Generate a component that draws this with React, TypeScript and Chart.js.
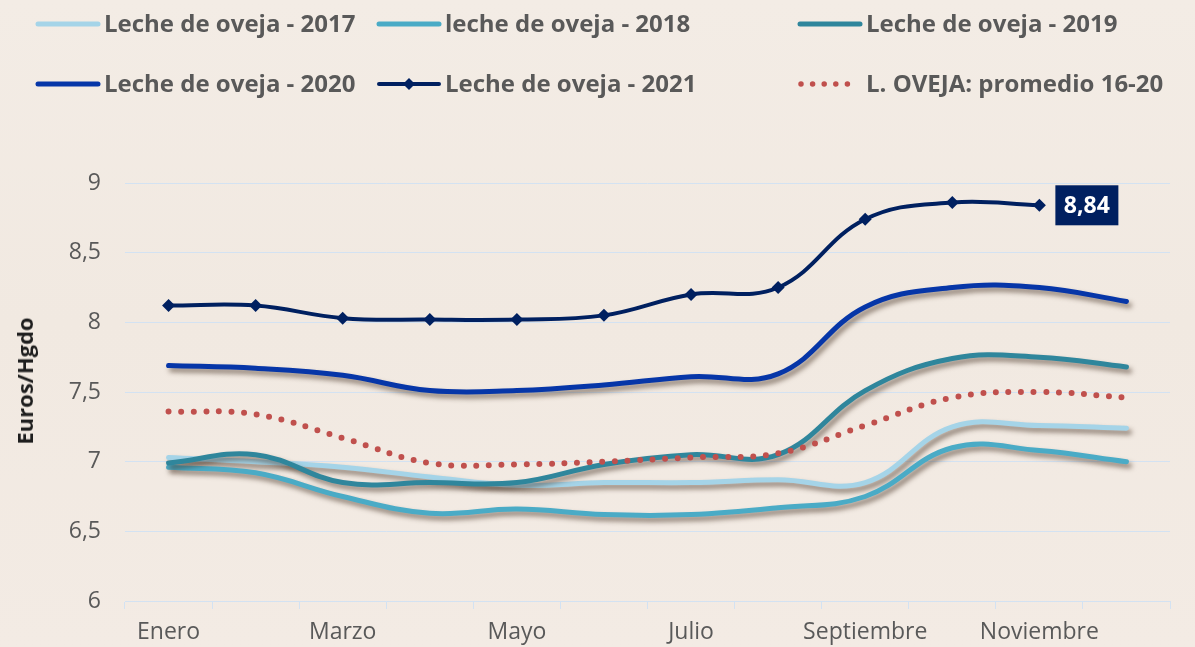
import React, { useEffect, useRef } from 'react';
import { Chart, registerables } from 'chart.js';
Chart.register(...registerables);

const months = ['Enero', 'Febrero', 'Marzo', 'Abril', 'Mayo', 'Junio', 'Julio', 'Agosto', 'Septiembre', 'Octubre', 'Noviembre', 'Diciembre'];
const leche2017 = [7.03, 7.0, 6.96, 6.89, 6.83, 6.85, 6.85, 6.87, 6.85, 7.25, 7.26, 7.24];
const leche2018 = [6.96, 6.92, 6.75, 6.63, 6.66, 6.62, 6.62, 6.67, 6.75, 7.1, 7.08, 7.0];
const leche2019 = [6.99, 7.05, 6.85, 6.85, 6.85, 6.98, 7.05, 7.05, 7.51, 7.74, 7.75, 7.68];
const leche2020 = [7.69, 7.67, 7.62, 7.51, 7.51, 7.55, 7.61, 7.63, 8.11, 8.25, 8.25, 8.15];
const leche2021 = [8.12, 8.12, 8.03, 8.02, 8.02, 8.05, 8.2, 8.25, 8.74, 8.86, 8.84, null];
const promedio = [7.36, 7.34, 7.17, 6.99, 6.98, 7.0, 7.03, 7.06, 7.26, 7.46, 7.5, 7.46];
const yMin = 6;
const yMax = 9;
const yStep = 0.5;
const lastLabel = '8,84';
const yTitle = 'Euros/Hgdo';

const FONT = "'Open Sans', sans-serif";
const TEXT = '#595959';
const GRID = '#d3e2f2';
const C2017 = '#a5d4e8';
const C2018 = '#4aabc6';
const C2019 = '#2f869c';
const C2020 = '#0636a8';
const C2021 = '#002060';
const CPROM = '#c0504d';

const legendItems = [
  { label: 'Leche de oveja - 2017', color: C2017, kind: 'line', x: 35, row: 0 },
  { label: 'leche de oveja - 2018', color: C2018, kind: 'line', x: 376, row: 0 },
  { label: 'Leche de oveja - 2019', color: C2019, kind: 'line', x: 797, row: 0 },
  { label: 'Leche de oveja - 2020', color: C2020, kind: 'line', x: 35, row: 1 },
  { label: 'Leche de oveja - 2021', color: C2021, kind: 'marker', x: 376, row: 1 },
  { label: 'L. OVEJA: promedio 16-20', color: CPROM, kind: 'dots', x: 797, row: 1 },
];

const shadowPlugin = {
  id: 'lineShadow',
  beforeDatasetDraw(chart: any, args: any) {
    const ds = chart.data.datasets[args.index];
    if (!ds.shadow) return;
    const ctx = chart.ctx;
    ctx.save();
    ctx.shadowColor = 'rgba(60,40,25,0.55)';
    ctx.shadowBlur = 5;
    ctx.shadowOffsetX = 3;
    ctx.shadowOffsetY = 4;
  },
  afterDatasetDraw(chart: any, args: any) {
    const ds = chart.data.datasets[args.index];
    if (!ds.shadow) return;
    chart.ctx.restore();
  },
};

const labelPlugin = {
  id: 'lastLabel',
  afterDatasetsDraw(chart: any) {
    const idx = chart.data.datasets.findIndex((d: any) => d.label === 'Leche de oveja - 2021');
    const meta = chart.getDatasetMeta(idx);
    const data = chart.data.datasets[idx].data;
    let last = -1;
    for (let i = 0; i < data.length; i++) if (data[i] != null) last = i;
    const pt = meta.data[last];
    if (!pt) return;
    const ctx = chart.ctx;
    ctx.save();
    const w = 63;
    const h = 40;
    const x0 = pt.x + 16;
    const y0 = pt.y - h / 2;
    ctx.fillStyle = C2021;
    ctx.fillRect(x0, y0, w, h);
    ctx.fillStyle = '#ffffff';
    ctx.font = `bold 23px ${FONT}`;
    ctx.textAlign = 'center';
    ctx.textBaseline = 'middle';
    ctx.fillText(lastLabel, x0 + w / 2, pt.y + 1);
    ctx.restore();
  },
};

function Swatch({ color, kind }: { color: string; kind: string }) {
  if (kind === 'dots') {
    return (
      <svg width={66} height={14} style={{ position: 'absolute', left: 0, top: 0 }}>
        <line x1={4} y1={7} x2={62} y2={7} stroke={color} strokeWidth={5.5} strokeLinecap="round" strokeDasharray="0 11.6" />
      </svg>
    );
  }
  if (kind === 'marker') {
    return (
      <svg width={66} height={14} style={{ position: 'absolute', left: 0, top: 0 }}>
        <line x1={3} y1={7} x2={63} y2={7} stroke={color} strokeWidth={4} strokeLinecap="round" />
        <polygon points="33,1 39,7 33,13 27,7" fill={color} />
      </svg>
    );
  }
  return (
    <svg width={66} height={14} style={{ position: 'absolute', left: 0, top: 0 }}>
      <line x1={3} y1={7} x2={63} y2={7} stroke={color} strokeWidth={5} strokeLinecap="round" />
    </svg>
  );
}

export default function App() {
  const ref = useRef<HTMLCanvasElement | null>(null);

  useEffect(() => {
    document.body.style.margin = '0';
    const canvas = ref.current;
    if (!canvas) return;
    const common = {
      tension: 0.4,
      pointRadius: 0,
      pointHoverRadius: 0,
      fill: false,
      borderCapStyle: 'round',
      borderJoinStyle: 'round',
    };
    const chart = new Chart(canvas, {
      type: 'line',
      data: {
        labels: months,
        datasets: [
          { ...common, label: 'Leche de oveja - 2017', data: leche2017, borderColor: C2017, backgroundColor: C2017, borderWidth: 5, order: 6, shadow: true },
          { ...common, label: 'leche de oveja - 2018', data: leche2018, borderColor: C2018, backgroundColor: C2018, borderWidth: 5, order: 5, shadow: true },
          { ...common, label: 'Leche de oveja - 2019', data: leche2019, borderColor: C2019, backgroundColor: C2019, borderWidth: 5, order: 4, shadow: true },
          { ...common, label: 'Leche de oveja - 2020', data: leche2020, borderColor: C2020, backgroundColor: C2020, borderWidth: 5, order: 3, shadow: true },
          {
            ...common,
            label: 'Leche de oveja - 2021',
            data: leche2021,
            borderColor: C2021,
            backgroundColor: C2021,
            borderWidth: 4,
            pointRadius: 6.5,
            pointStyle: 'rectRot',
            pointBackgroundColor: C2021,
            pointBorderColor: C2021,
            pointBorderWidth: 0,
            order: 2,
          },
          {
            ...common,
            label: 'L. OVEJA: promedio 16-20',
            data: promedio,
            borderColor: CPROM,
            backgroundColor: CPROM,
            borderWidth: 6,
            borderDash: [0, 12.6],
            order: 1,
          },
        ] as any,
      },
      options: {
        responsive: false,
        animation: false,
        maintainAspectRatio: false,
        layout: { padding: { top: 183, right: 25, bottom: 0, left: 0 } },
        plugins: {
          legend: { display: false },
          tooltip: { enabled: false },
        },
        scales: {
          x: {
            offset: true,
            grid: {
              offset: true,
              drawOnChartArea: false,
              drawTicks: true,
              tickLength: 8,
              color: GRID,
            },
            border: { display: true, color: GRID, width: 1 },
            ticks: {
              autoSkip: false,
              maxRotation: 0,
              padding: 10,
              color: TEXT,
              font: { family: FONT, size: 23 },
              callback: (_v: any, i: number) => (i % 2 === 0 ? months[i] : ''),
            },
            afterFit: (s: any) => {
              s.height = 46;
            },
          },
          y: {
            min: yMin,
            max: yMax,
            grid: { color: GRID, drawTicks: false, lineWidth: 1 },
            border: { display: false },
            ticks: {
              stepSize: yStep,
              padding: 24,
              color: TEXT,
              font: { family: FONT, size: 23 },
              callback: (v: any) => String(v).replace('.', ','),
            },
            afterFit: (s: any) => {
              s.width = 125;
            },
          },
        },
      } as any,
      plugins: [shadowPlugin, labelPlugin],
    });
    return () => chart.destroy();
  }, []);

  return (
    <div
      style={{
        position: 'relative',
        width: 1195,
        height: 647,
        overflow: 'hidden',
        background: 'linear-gradient(180deg, #f3ece5 0%, #f1e9e1 50%, #f3ebe4 100%)',
      }}
    >
      <canvas ref={ref} width={1195} height={647} style={{ position: 'absolute', left: 0, top: 0 }} />
      <div
        style={{
          position: 'absolute',
          left: 24,
          top: 381,
          transform: 'translate(-50%, -50%) rotate(-90deg)',
          whiteSpace: 'nowrap',
          fontFamily: FONT,
          fontWeight: 'bold',
          fontSize: 22,
          lineHeight: '26px',
          color: '#1e1e1e',
        }}
      >
        {yTitle}
      </div>
      {legendItems.map((it) => (
        <div key={it.label} style={{ position: 'absolute', left: it.x, top: it.row === 0 ? 17 : 77, height: 14 }}>
          <Swatch color={it.color} kind={it.kind} />
        </div>
      ))}
      {legendItems.map((it) => (
        <div
          key={it.label + '-t'}
          style={{
            position: 'absolute',
            left: it.x + 69,
            top: it.row === 0 ? 11 : 71,
            height: 24,
            lineHeight: '24px',
            whiteSpace: 'nowrap',
            fontFamily: FONT,
            fontWeight: 'bold',
            fontSize: 24,
            color: TEXT,
          }}
        >
          {it.label}
        </div>
      ))}
    </div>
  );
}
